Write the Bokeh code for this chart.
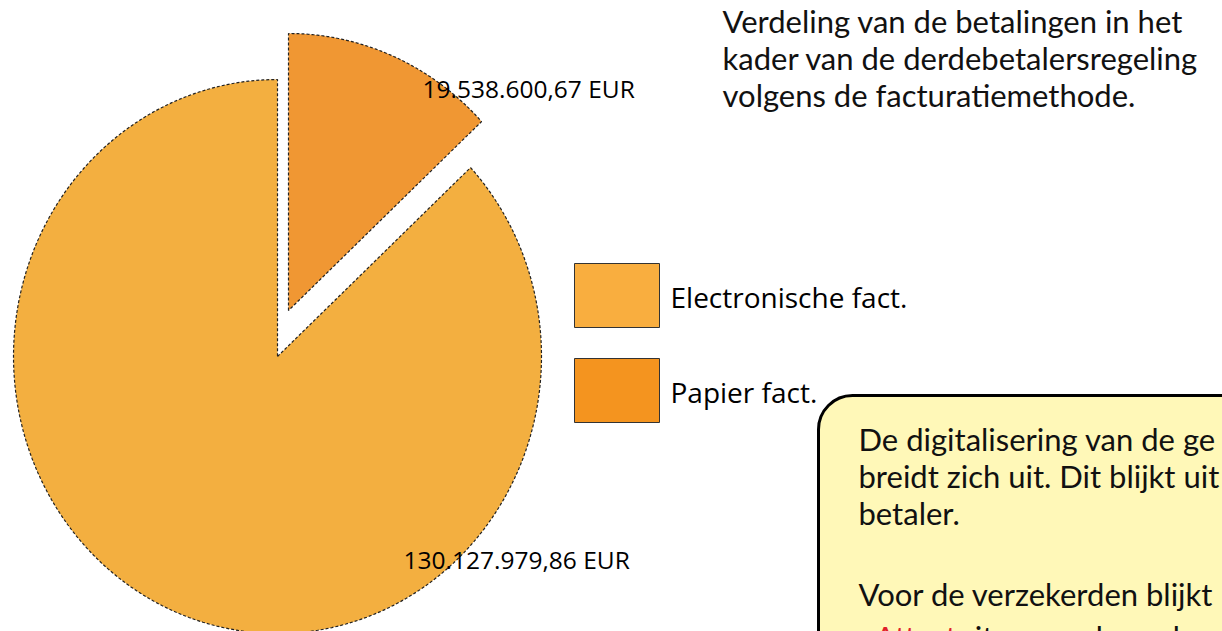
import numpy as np
from bokeh.plotting import figure
from bokeh.models import Range1d, BoxAnnotation
from bokeh.core.properties import value
from bokeh.embed import file_html
from bokeh.resources import INLINE

# ---- data ----
categories = ["Electronische fact.", "Papier fact."]
amounts = [130127979.86, 19538600.67]
amount_labels = ["130.127.979,86 EUR", "19.538.600,67 EUR"]
slice_colors = ["#F3AF40", "#F09733"]
legend_colors = ["#F9AE3F", "#F4941F"]
title_lines = ["Verdeling van de betalingen in het",
               "kader van de derdebetalersregeling",
               "volgens de facturatiemethode."]
note_lines = ["De digitalisering van de ge",
              "breidt zich uit. Dit blijkt uit",
              "betaler.",
              "",
              "Voor de verzekerden blijkt"]
note_red = "eAttest"
note_rest = "uitgevoerd worden"

# ---- figure (data coords == pixel coords of the picture, y downwards) ----
W, H = 1222, 631
p = figure(width=W, height=H, output_backend="svg", toolbar_location=None,
           x_range=Range1d(0, W), y_range=Range1d(H, 0),
           min_border=0)
p.axis.visible = False
p.grid.visible = False
p.outline_line_color = None
p.background_fill_color = "white"

# ---- pie (slightly elliptical, paper slice exploded) ----
cx, cy = 277, 356
rx, ry = 264, 277
explode = {1: (11, -46)}
fr = np.array(amounts) / sum(amounts)
start_deg = {1: 90.0, 0: 90.0 - 360 * fr[1]}
xs, ys = [], []
for i in [0, 1]:
    a0 = start_deg[i]
    a1 = a0 - 360 * fr[i]
    ang = np.radians(np.linspace(a0, a1, 200))
    dx, dy = explode.get(i, (0, 0))
    px = np.concatenate([[cx + dx], cx + dx + rx * np.cos(ang), [cx + dx]])
    py = np.concatenate([[cy + dy], cy + dy - ry * np.sin(ang), [cy + dy]])
    xs.append(list(px))
    ys.append(list(py))
p.patches(xs, ys, fill_color=slice_colors, line_color="#222222",
          line_width=1.2, line_dash="3 2")

# value labels
lab_font = value("Open Sans")
p.text(x=[403], y=[559], text=[amount_labels[0]], text_font=lab_font,
       text_font_size="24.5px", text_color="black", text_baseline="alphabetic")
p.text(x=[422], y=[88], text=[amount_labels[1]], text_font=lab_font,
       text_font_size="24.5px", text_color="black", text_baseline="alphabetic")

# legend
p.rect(x=[616.5, 616.5], y=[295, 390], width=85, height=64,
       fill_color=legend_colors, line_color="#333333", line_width=1)
p.text(x=[670, 670], y=[296, 391], text=categories, text_font=lab_font,
       text_font_size="28px", text_color="black", text_baseline="alphabetic")

# title
tfont = value("Lato")
p.text(x=[722] * 3, y=[20, 57, 94], text=title_lines, text_font=tfont,
       text_font_size="31px", text_color="#111111", text_baseline="alphabetic")

# note box
box = BoxAnnotation(left=818, right=1320, top=395, bottom=900,
                    fill_color="#FFF8B8", fill_alpha=1.0,
                    line_color="#000000", line_alpha=1.0, line_width=3,
                    border_radius=34, level="underlay")
p.add_layout(box)
ny = [438, 475, 512, 549, 593]
p.text(x=[858] * len(note_lines), y=ny, text=note_lines, text_font=tfont,
       text_font_size="31px", text_color="#111111", text_baseline="alphabetic")
p.text(x=[858], y=[636], text=[note_red], text_font=tfont,
       text_font_size="31px", text_color="#E0202A", text_baseline="alphabetic")
p.text(x=[957], y=[636], text=[note_rest], text_font=tfont,
       text_font_size="31px", text_color="#111111", text_baseline="alphabetic")

open("out.html", "w").write(file_html(p, INLINE))
